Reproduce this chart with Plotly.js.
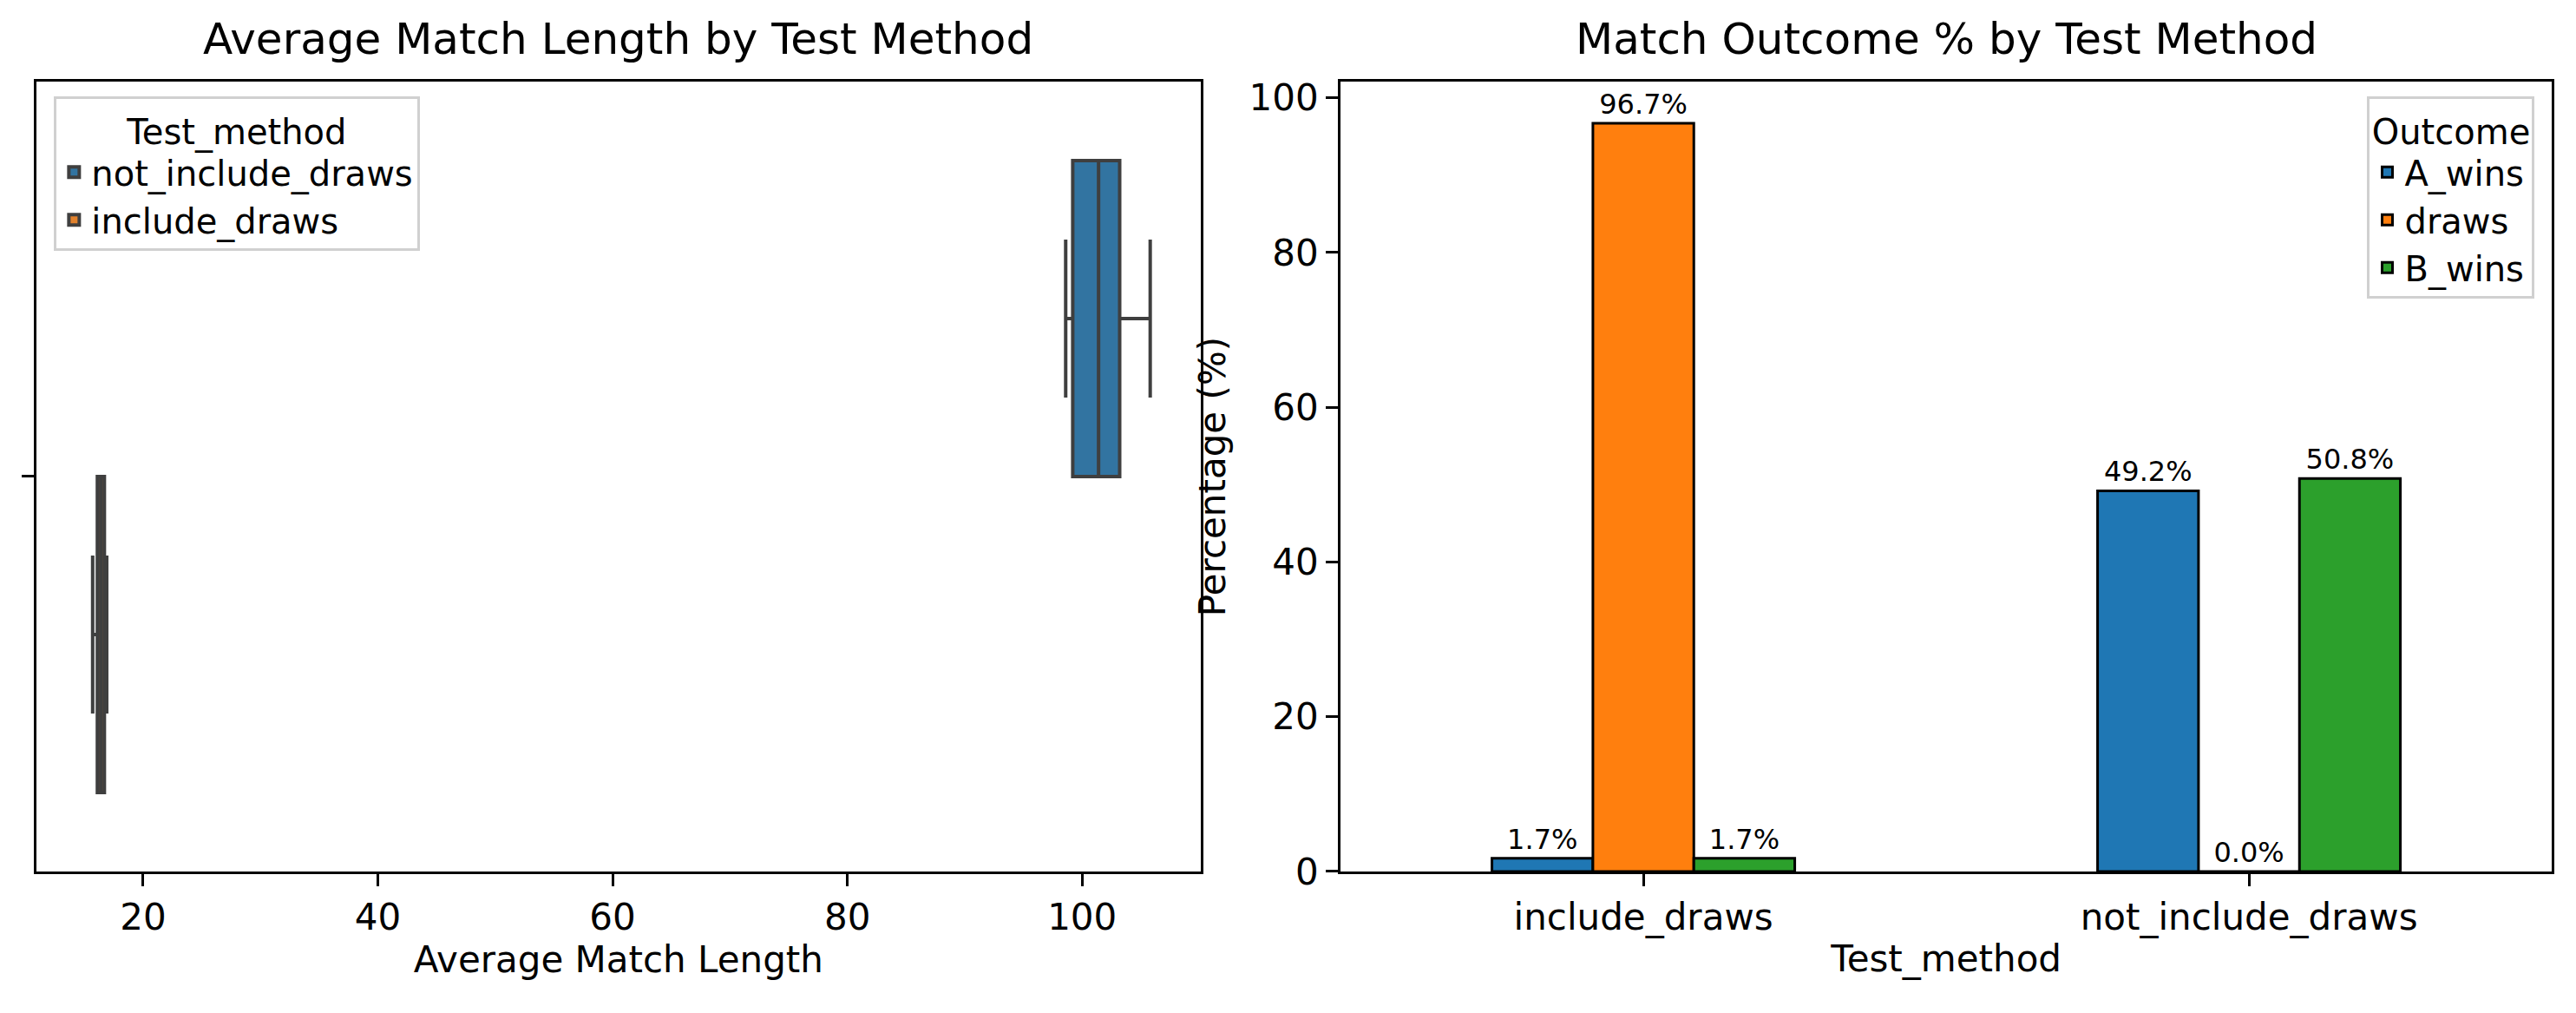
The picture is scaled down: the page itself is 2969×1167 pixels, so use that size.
<!DOCTYPE html>
<html>
<head>
<meta charset="utf-8">
<script src="https://cdn.plot.ly/plotly-3.0.1.min.js"></script>
<style>body{margin:0;background:#fff}#chart{width:2969px;height:1167px}</style>
</head>
<body>
<div id="chart"></div>
<script>
// box stats for average match length
const boxNames = ["not_include_draws", "include_draws"];
const boxPos = [-0.2, 0.2];
const boxLow = [98.6, 15.7];
const boxQ1 = [99.2, 16.1];
const boxMed = [101.4, 16.4];
const boxQ3 = [103.2, 16.7];
const boxHigh = [105.8, 16.9];
const boxColors = ["#3274a1", "#e1812c"];

// outcome percentages
const methods = ["include_draws", "not_include_draws"];
const outcomes = ["A_wins", "draws", "B_wins"];
const outcomeValues = {
  A_wins: [1.7, 49.2],
  draws: [96.7, 0.0],
  B_wins: [1.7, 50.8],
};
const barColors = ["#1f77b4", "#ff7f0e", "#2ca02c"];

const font = "DejaVu Sans, sans-serif";
var data = [];

for (var i = 0; i < boxNames.length; i++) {
  data.push({
    type: "box",
    orientation: "h",
    name: boxNames[i],
    y: [boxPos[i]],
    q1: [boxQ1[i]],
    median: [boxMed[i]],
    q3: [boxQ3[i]],
    lowerfence: [boxLow[i]],
    upperfence: [boxHigh[i]],
    width: 0.4,
    whiskerwidth: 0.5,
    fillcolor: boxColors[i],
    line: { color: "#3f3f3f", width: 4 },
    xaxis: "x",
    yaxis: "y",
    legend: "legend",
    hoverinfo: "skip",
  });
}

for (var j = 0; j < outcomes.length; j++) {
  var vals = outcomeValues[outcomes[j]];
  data.push({
    type: "bar",
    name: outcomes[j],
    x: methods,
    y: vals,
    text: vals.map(v => v.toFixed(1) + "%"),
    textposition: "outside",
    cliponaxis: false,
    textfont: { size: 32, color: "black", family: font },
    marker: { color: barColors[j], line: { color: "black", width: 3 } },
    xaxis: "x2",
    yaxis: "y2",
    legend: "legend2",
  });
}

const axisStyle = {
  showline: true, mirror: true, linecolor: "black", linewidth: 3,
  ticks: "outside", ticklen: 14, tickwidth: 3, tickcolor: "black",
  showgrid: false, zeroline: false,
  tickfont: { size: 42, color: "black", family: font },
};

const legendStyle = {
  bgcolor: "rgba(255,255,255,0.8)", bordercolor: "#d0d0d0", borderwidth: 3,
  font: { size: 40, color: "black", family: font },
};

var layout = {
  width: 2969, height: 1167,
  margin: { l: 0, r: 0, t: 0, b: 0 },
  paper_bgcolor: "white", plot_bgcolor: "white",
  font: { family: font, color: "black" },
  showlegend: true,
  barmode: "group", bargap: 0.5, bargroupgap: 0,
  xaxis: Object.assign({}, axisStyle, {
    domain: [0.0141, 0.4661], range: [10.9, 110.1],
    tickvals: [20, 40, 60, 80, 100],
    title: { text: "Average Match Length", font: { size: 42, family: font }, standoff: 10 },
  }),
  yaxis: Object.assign({}, axisStyle, {
    domain: [0.1397, 0.9195], range: [0.5, -0.5],
    tickvals: [0], ticktext: [""],
  }),
  xaxis2: Object.assign({}, axisStyle, {
    domain: [0.5204, 0.9906], anchor: "y2",
    title: { text: "Test_method", font: { size: 42, family: font }, standoff: 10 },
  }),
  yaxis2: Object.assign({}, axisStyle, {
    domain: [0.1397, 0.9195], anchor: "x2", range: [0, 102.1],
    tickvals: [0, 20, 40, 60, 80, 100],
    title: { text: "Percentage (%)", font: { size: 42, family: font }, standoff: 14 },
  }),
  legend: Object.assign({}, legendStyle, {
    x: 0.021, y: 0.905, xanchor: "left", yanchor: "top",
    title: { text: "Test_method", side: "top center", font: { size: 40, family: font } },
  }),
  legend2: Object.assign({}, legendStyle, {
    x: 0.984, y: 0.905, xanchor: "right", yanchor: "top",
    title: { text: "Outcome", side: "top center", font: { size: 40, family: font } },
  }),
  annotations: [
    { text: "Average Match Length by Test Method", xref: "paper", yref: "paper",
      x: 0.2401, y: 0.935, xanchor: "center", yanchor: "bottom", showarrow: false,
      font: { size: 50, family: font, color: "black" } },
    { text: "Match Outcome % by Test Method", xref: "paper", yref: "paper",
      x: 0.7555, y: 0.935, xanchor: "center", yanchor: "bottom", showarrow: false,
      font: { size: 50, family: font, color: "black" } },
  ],
};

Plotly.newPlot("chart", data, layout, { displayModeBar: false });
</script>
</body>
</html>
